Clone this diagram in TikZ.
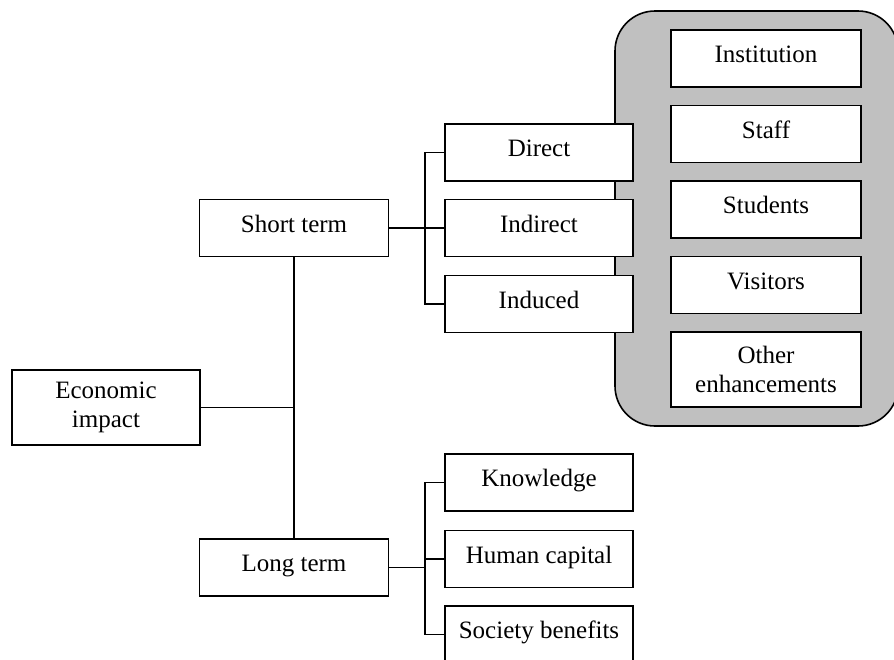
\documentclass[tikz,border=0pt]{standalone}
\usepackage{fontspec}
\setmainfont{Liberation Serif}
\usetikzlibrary{calc}
\definecolor{panelgray}{RGB}{192,192,192}
\begin{document}
\begin{tikzpicture}[x=0.5pt,y=-0.5pt,
  box/.style={draw=black, line width=0.8pt, fill=white, rectangle, inner sep=0pt,
    font=\fontsize{12.5}{14.5}\selectfont, align=center, minimum width=94pt, minimum height=28.5pt},
  onebox/.style={box, text height=9pt, text depth=5pt},
  twobox/.style={box, minimum height=37.5pt},
  inner/.style={minimum width=95pt},
  wire/.style={draw=black, line width=0.8pt},
  panel/.style={draw=black, line width=0.8pt, fill=panelgray, rounded corners=20pt}]
\useasboundingbox (0,0) rectangle (894,659);
\clip (0,0) rectangle (894,659);
\fill[white] (0,0) rectangle (894,659);

\path[panel] (615,11) rectangle (898,426);

\node[twobox] (econ) at (106,407.5) {Economic\\impact};
\node[onebox, minimum width=94.5pt] (short) at (294,228) {Short term};
\node[onebox, minimum width=94.5pt] (long) at (294,567.5) {Long term};

\node[onebox] (direct) at (539,152.5) {Direct};
\node[onebox] (indirect) at (539,228) {Indirect};
\node[onebox] (induced) at (539,304) {Induced};

\node[onebox] (knowledge) at (539,482.5) {Knowledge};
\node[onebox] (human) at (539,559) {Human capital};
\node[onebox] (society) at (539,634.5) {Society benefits};

\node[onebox, inner] (inst) at (766,58.5) {Institution};
\node[onebox, inner] (staff) at (766,134) {Staff};
\node[onebox, inner] (students) at (766,209.5) {Students};
\node[onebox, inner] (visitors) at (766,285) {Visitors};
\node[twobox, inner] (other) at (766,369.5) {Other\\enhancements};

\coordinate (sbus) at ($(indirect.west)+(-19,0)$);
\coordinate (lbus) at ($(human.west)+(-19,0)$);

\draw[wire] (short.south) -- (long.north);
\draw[wire] (econ.east) -- (econ.east -| short.south);

\draw[wire] (short.east) -- (indirect.west);
\draw[wire] (direct.west) -| (sbus) |- (induced.west);

\draw[wire] (knowledge.west) -| (lbus) |- (society.west);
\draw[wire] (human.west) -- (lbus);
\draw[wire] (long.east) -- (long.east -| lbus);
\end{tikzpicture}
\end{document}
